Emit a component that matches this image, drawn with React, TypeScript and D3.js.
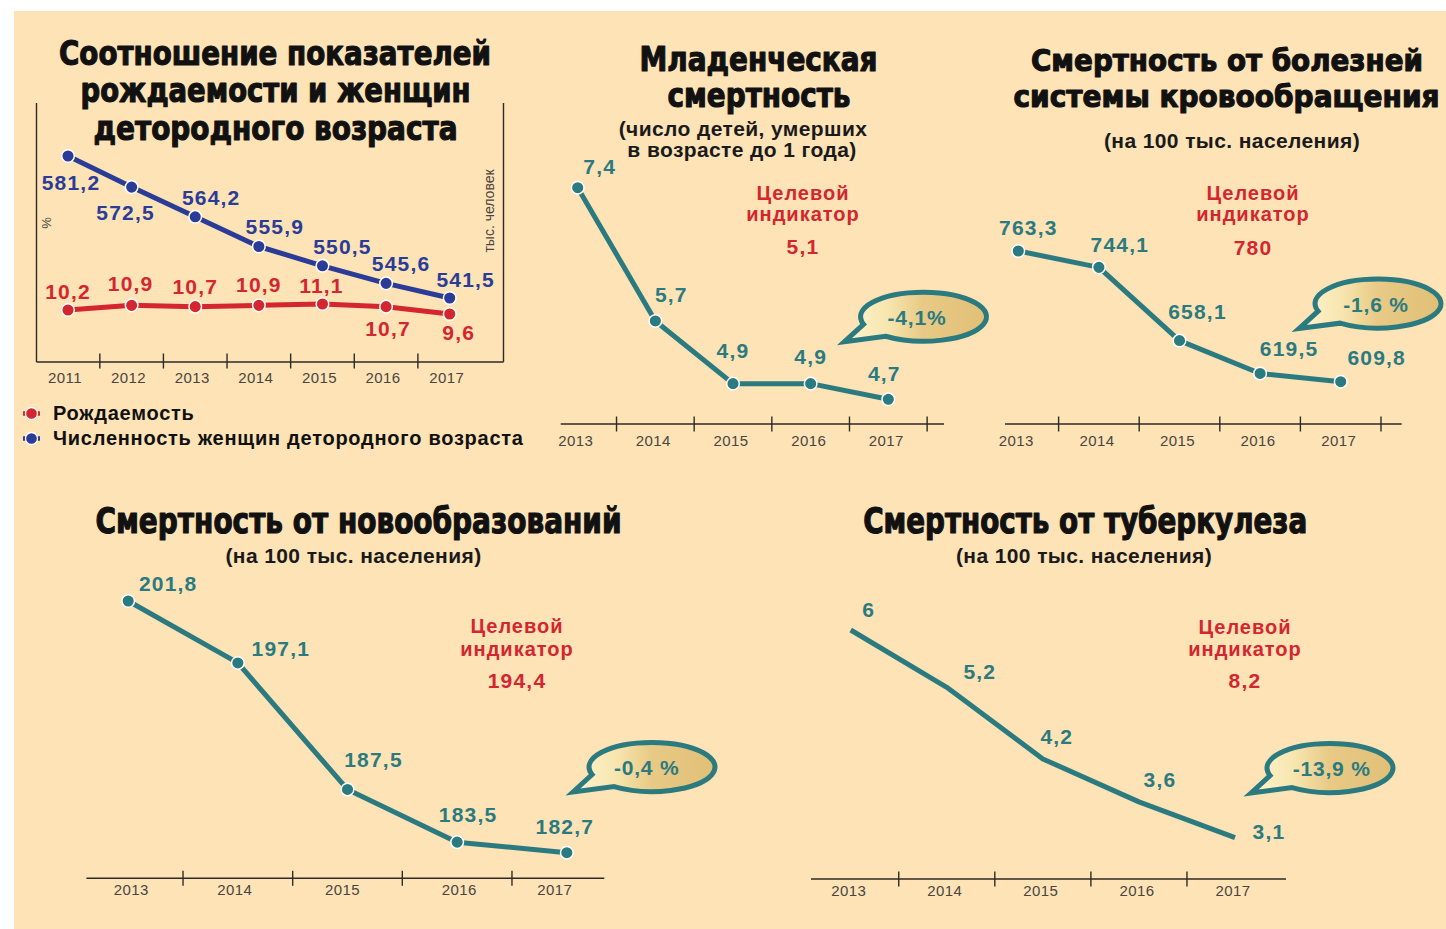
import React from 'react';
import * as d3 from 'd3';

// ---------- DATA ----------
const years1 = ['2011', '2012', '2013', '2014', '2015', '2016', '2017'];
const birthRate = [10.2, 10.9, 10.7, 10.9, 11.1, 10.7, 9.6];
const womenCount = [581.2, 572.5, 564.2, 555.9, 550.5, 545.6, 541.5];

const years = ['2013', '2014', '2015', '2016', '2017'];
const infantMortality = [7.4, 5.7, 4.9, 4.9, 4.7];
const circulatoryMortality = [763.3, 744.1, 658.1, 619.5, 609.8];
const neoplasmMortality = [201.8, 197.1, 187.5, 183.5, 182.7];
const tuberculosisMortality = [6, 5.2, 4.2, 3.6, 3.1];

const targetValues = [5.1, 780, 194.4, 8.2];
const changeLabels = ['-4,1%', '-1,6 %', '-0,4 %', '-13,9 %'];

// ---------- STYLE ----------
const BG = '#fde3b6';
const TEAL = '#2b7a80';
const BLUE = '#2a3c98';
const RED = '#d4262f';
const AXIS = '#2e2a26';
const YEAR = '#4a4540';
const TITLE_FONT = "'DejaVu Sans Condensed', 'DejaVu Sans', sans-serif";
const SANS = "'Liberation Sans', Arial, Helvetica, sans-serif";

const fmt = (v: number) => String(v).replace('.', ',');

type Off = [number, number];

function Title({ lines }: { lines: { t: string; cx: number; y: number; w: number; fs: number }[] }) {
  return (
    <g>
      {lines.map((l, i) => (
        <text key={i} x={l.cx} y={l.y} textAnchor="middle" fontFamily={TITLE_FONT} fontWeight={700}
          fontSize={l.fs} fill="#111" stroke="#111" strokeWidth={1.1} strokeLinejoin="round"
          textLength={l.w} lengthAdjust="spacingAndGlyphs">{l.t}</text>
      ))}
    </g>
  );
}

function Sub({ lines }: { lines: { t: string; cx: number; y: number }[] }) {
  return (
    <g>
      {lines.map((l, i) => (
        <text key={i} x={l.cx} y={l.y} textAnchor="middle" fontFamily={SANS} fontWeight={700}
          fontSize={21} letterSpacing={0.4} fill="#1a1a1a">{l.t}</text>
      ))}
    </g>
  );
}

function Target({ cx, ys, value }: { cx: number; ys: number[]; value: number }) {
  return (
    <g fontFamily={SANS} fontWeight={700} fill={RED} textAnchor="middle">
      <text x={cx} y={ys[0]} fontSize={20} letterSpacing={1}>Целевой</text>
      <text x={cx} y={ys[1]} fontSize={20} letterSpacing={1}>индикатор</text>
      <text x={cx} y={ys[2]} fontSize={21} letterSpacing={1.2}>{fmt(value)}</text>
    </g>
  );
}

function Bubble({ cx, cy, label, dx = -4, id }: { cx: number; cy: number; label: string; dx?: number; id: string }) {
  const rx = 63, ry = 24.5;
  const a1 = (162 * Math.PI) / 180;
  const a2 = (127 * Math.PI) / 180;
  const p1 = [cx + rx * Math.cos(a1), cy + ry * Math.sin(a1)];
  const p2 = [cx + rx * Math.cos(a2), cy + ry * Math.sin(a2)];
  const tip = [cx - 79, cy + 25];
  const d = `M${tip[0]},${tip[1]} L${p1[0]},${p1[1]} A${rx},${ry} 0 1 1 ${p2[0]},${p2[1]} Z`;
  return (
    <g>
      <defs>
        <linearGradient id={id} x1="0" x2="1" y1="0" y2="0">
          <stop offset="0" stopColor="#fff4cf" />
          <stop offset="0.3" stopColor="#f8e6b0" />
          <stop offset="0.55" stopColor="#e8ca86" />
          <stop offset="1" stopColor="#e1bf76" />
        </linearGradient>
      </defs>
      <path d={d} fill={`url(#${id})`} stroke={TEAL} strokeWidth={5} strokeLinejoin="miter" strokeMiterlimit={5} />
      <text x={cx + dx} y={cy + 8} textAnchor="middle" fontFamily={SANS} fontWeight={700} fontSize={21}
        letterSpacing={0.8} fill={TEAL}>{label}</text>
    </g>
  );
}

interface MiniProps {
  values: number[];
  xRange: [number, number];
  yRange: [number, number];
  axisY: number;
  axisExt: [number, number];
  endTick: boolean;
  offsets: Off[];
  dots: boolean;
  yearY: number;
  yearDx?: number[];
}

function MiniChart({ values, xRange, yRange, axisY, axisExt, endTick, offsets, dots, yearY, yearDx }: MiniProps) {
  const x = d3.scalePoint<string>().domain(years).range(xRange);
  const ext = d3.extent(values) as [number, number];
  const y = d3.scaleLinear().domain(ext).range(yRange);
  const step = x.step();
  const line = d3.line<number>().x((_, i) => x(years[i]) as number).y((v) => y(v));
  const ticks = years.slice(0, -1).map((yr) => (x(yr) as number) + step / 2);
  if (endTick) ticks.push((x(years[years.length - 1]) as number) + step / 2);
  return (
    <g>
      <line x1={axisExt[0]} x2={axisExt[1]} y1={axisY} y2={axisY} stroke={AXIS} strokeWidth={1.4} />
      {ticks.map((t, i) => (
        <line key={i} x1={t} x2={t} y1={axisY - 7.5} y2={axisY + 7.5} stroke={AXIS} strokeWidth={1.4} />
      ))}
      {years.map((yr, i) => (
        <text key={yr} x={(x(yr) as number) + (yearDx ? yearDx[i] : -2)} y={yearY} textAnchor="middle"
          fontFamily={SANS} fontSize={15} letterSpacing={0.4} fill={YEAR}>{yr}</text>
      ))}
      <path d={line(values) || ''} fill="none" stroke={TEAL} strokeWidth={5} strokeLinejoin="round" strokeLinecap="butt" />
      {dots && values.map((v, i) => (
        <circle key={i} cx={x(years[i])} cy={y(v)} r={6.3} fill={TEAL} stroke="#fff" strokeWidth={1.5} />
      ))}
      {values.map((v, i) => (
        <text key={'l' + i} x={(x(years[i]) as number) + offsets[i][0]} y={y(v) + offsets[i][1]} textAnchor="middle"
          fontFamily={SANS} fontWeight={700} fontSize={21} letterSpacing={1.2} fill={TEAL}>{fmt(v)}</text>
      ))}
    </g>
  );
}

function BirthChart() {
  const x = d3.scalePoint<string>().domain(years1).range([68, 449.7]);
  const yB = d3.scaleLinear().domain(d3.extent(womenCount) as [number, number]).range([298, 156]);
  const yR = d3.scaleLinear().domain(d3.extent(birthRate) as [number, number]).range([314, 304]);
  const step = x.step();
  const lineB = d3.line<number>().x((_, i) => x(years1[i]) as number).y((v) => yB(v));
  const lineR = d3.line<number>().x((_, i) => x(years1[i]) as number).y((v) => yR(v));
  const blueOff: Off[] = [[3, 34], [-6, 33], [16, -12], [16, -12], [20, -12], [15, -12], [16, -11]];
  const redOff: Off[] = [[0, -11], [-1, -14], [0, -13], [0, -13], [-1, -11], [2, 29], [9, 26]];
  const ticks = years1.slice(0, -1).map((yr) => (x(yr) as number) + step / 2);
  const left = 36.5, right = 503.5, top = 103, bottom = 362;
  return (
    <g>
      <line x1={left} x2={left} y1={top} y2={bottom} stroke={AXIS} strokeWidth={1.4} />
      <line x1={right} x2={right} y1={top} y2={bottom} stroke={AXIS} strokeWidth={1.4} />
      <line x1={left} x2={right} y1={bottom} y2={bottom} stroke={AXIS} strokeWidth={1.4} />
      {ticks.map((t, i) => (
        <line key={i} x1={t} x2={t} y1={bottom - 8.5} y2={bottom + 6.5} stroke={AXIS} strokeWidth={1.4} />
      ))}
      {years1.map((yr) => (
        <text key={yr} x={(x(yr) as number) - 3} y={383} textAnchor="middle" fontFamily={SANS} fontSize={15}
          letterSpacing={0.4} fill={YEAR}>{yr}</text>
      ))}
      <text transform="translate(51,223) rotate(-90)" textAnchor="middle" fontFamily={SANS} fontSize={13} fill={YEAR}>%</text>
      <text transform="translate(494,211) rotate(-90)" textAnchor="middle" fontFamily={SANS} fontSize={14} fill={YEAR}>тыс. человек</text>
      <path d={lineB(womenCount) || ''} fill="none" stroke={BLUE} strokeWidth={5} strokeLinejoin="round" />
      <path d={lineR(birthRate) || ''} fill="none" stroke={RED} strokeWidth={5} strokeLinejoin="round" />
      {womenCount.map((v, i) => (
        <circle key={'b' + i} cx={x(years1[i])} cy={yB(v)} r={6.3} fill={BLUE} stroke="#fff" strokeWidth={1.5} />
      ))}
      {birthRate.map((v, i) => (
        <circle key={'r' + i} cx={x(years1[i])} cy={yR(v)} r={6.3} fill={RED} stroke="#fff" strokeWidth={1.5} />
      ))}
      {womenCount.map((v, i) => (
        <text key={'bl' + i} x={(x(years1[i]) as number) + blueOff[i][0]} y={yB(v) + blueOff[i][1]} textAnchor="middle"
          fontFamily={SANS} fontWeight={700} fontSize={21} letterSpacing={1.2} fill={BLUE}>{fmt(v)}</text>
      ))}
      {birthRate.map((v, i) => (
        <text key={'rl' + i} x={(x(years1[i]) as number) + redOff[i][0]} y={yR(v) + redOff[i][1]} textAnchor="middle"
          fontFamily={SANS} fontWeight={700} fontSize={21} letterSpacing={1.2} fill={RED}>{fmt(v)}</text>
      ))}
      {/* legend */}
      {[{ c: RED, y: 413.5, t: 'Рождаемость', ty: 419.5 }, { c: BLUE, y: 438.5, t: 'Численность женщин детородного возраста', ty: 444.5 }].map((l) => (
        <g key={l.t}>
          <line x1={23} x2={40} y1={l.y} y2={l.y} stroke={l.c} strokeWidth={4.5} />
          <circle cx={31.5} cy={l.y} r={6} fill={l.c} stroke="#fff" strokeWidth={1.3} />
          <text x={53} y={l.ty} fontFamily={SANS} fontWeight={700} fontSize={20} letterSpacing={0.75} fill="#111">{l.t}</text>
        </g>
      ))}
    </g>
  );
}

export default function App() {
  return (
    <svg width={1446} height={929} style={{ position: 'absolute', left: 0, top: 0, background: '#fff' }}>
      <rect x={14} y={11} width={1432} height={918} fill={BG} />

      <Title lines={[
        { t: 'Соотношение показателей', cx: 275, y: 65, w: 432, fs: 34 },
        { t: 'рождаемости и женщин', cx: 275.5, y: 102, w: 390, fs: 34 },
        { t: 'детородного возраста', cx: 275.5, y: 140, w: 364, fs: 34 },
      ]} />
      <BirthChart />

      <Title lines={[
        { t: 'Младенческая', cx: 758.5, y: 71, w: 238, fs: 33.5 },
        { t: 'смертность', cx: 759, y: 107, w: 183, fs: 33.5 },
      ]} />
      <Sub lines={[
        { t: '(число детей, умерших', cx: 743, y: 136 },
        { t: 'в возрасте до 1 года)', cx: 742, y: 157 },
      ]} />
      <Target cx={803} ys={[200, 221, 254]} value={targetValues[0]} />
      <MiniChart values={infantMortality} xRange={[577.7, 888.3]} yRange={[399.3, 187.7]} axisY={424}
        axisExt={[560.7, 944]} endTick={true} dots={true} yearY={446}
        offsets={[[22, -14], [16, -19], [0, -26], [0, -20], [-4, -18]]} />
      <Bubble cx={923.5} cy={316.7} label={changeLabels[0]} dx={-6.5} id="g1" />

      <Title lines={[
        { t: 'Смертность от болезней', cx: 1227, y: 71, w: 392, fs: 31 },
        { t: 'системы кровообращения', cx: 1226.5, y: 107, w: 426, fs: 31 },
      ]} />
      <Sub lines={[{ t: '(на 100 тыс. населения)', cx: 1232, y: 148 }]} />
      <Target cx={1253} ys={[199.5, 221, 255]} value={targetValues[1]} />
      <MiniChart values={circulatoryMortality} xRange={[1018.3, 1340.7]} yRange={[381.7, 251]} axisY={424}
        axisExt={[1005, 1401.7]} endTick={true} dots={true} yearY={446}
        offsets={[[10, -16], [21, -15], [18, -22], [29, -17], [36, -17]]} />
      <Bubble cx={1378} cy={303.6} label={changeLabels[1]} dx={-2} id="g2" />

      <Title lines={[{ t: 'Смертность от новообразований', cx: 358.5, y: 533.3, w: 526, fs: 35 }]} />
      <Sub lines={[{ t: '(на 100 тыс. населения)', cx: 353.5, y: 563.3 }]} />
      <Target cx={517} ys={[633.3, 656, 688.3]} value={targetValues[2]} />
      <MiniChart values={neoplasmMortality} xRange={[128.2, 566.8]} yRange={[852.7, 601]} axisY={878.3}
        axisExt={[86.4, 604.3]} endTick={false} dots={true} yearY={895} yearDx={[3, -3, -5, 2, -12]}
        offsets={[[40, -10], [43, -7], [26, -22], [11, -20], [-2, -19]]} />
      <Bubble cx={652} cy={767} label={changeLabels[2]} dx={-5.3} id="g3" />

      <Title lines={[{ t: 'Смертность от туберкулеза', cx: 1085.2, y: 533.3, w: 444, fs: 35 }]} />
      <Sub lines={[{ t: '(на 100 тыс. населения)', cx: 1084, y: 563 }]} />
      <Target cx={1245} ys={[634, 656, 688.3]} value={targetValues[3]} />
      <MiniChart values={tuberculosisMortality} xRange={[850.7, 1235]} yRange={[837.7, 630]} axisY={879}
        axisExt={[811, 1286]} endTick={false} dots={false} yearY={896}
        offsets={[[18, -13], [33, -8], [14, -15], [21, -15], [34, 1]]} />
      <Bubble cx={1330} cy={768} label={changeLabels[3]} dx={1.7} id="g4" />
    </svg>
  );
}
